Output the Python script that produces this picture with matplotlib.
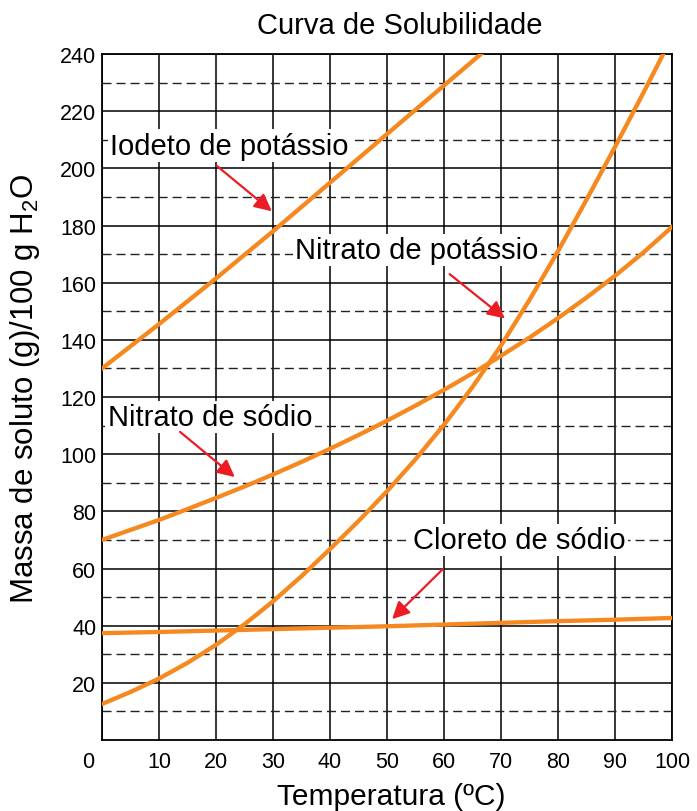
import matplotlib
matplotlib.use("Agg")
import matplotlib.pyplot as plt
import matplotlib.transforms as mtransforms

plt.rcParams["font.family"] = ["Liberation Sans", "DejaVu Sans"]
plt.rcParams["mathtext.default"] = "regular"

ORANGE = "#f5891f"
RED = "#ec1c24"

# values (g / 100 g H2O)
temps = [0, 5, 10, 15, 20, 25, 30, 35, 40, 45, 50, 55, 60, 65, 70, 75, 80, 85, 90, 95, 100]
kno3 = [12.6, 16.8, 21.5, 27, 33.3, 40.5, 48.5, 57.3, 66.8, 76.6, 87, 98.2, 110.3,
        123.5, 138, 154, 171, 189, 207.5, 226.5, 246]
nano3 = [70, 73.5, 77, 80.8, 84.7, 88.7, 92.9, 97.3, 101.9, 106.7, 111.7, 117, 122.5,
         128.3, 134.4, 140.8, 147.6, 154.8, 162.4, 170.6, 179.5]

temps_ki = [0, 10, 20, 30, 40, 50, 60, 70]
ki = [130, 145.5, 161.5, 178, 195, 212, 229, 246]

temps_nacl = [0, 10, 20, 30, 40, 50, 60, 70, 80, 90, 100]
nacl = [37.4, 37.8, 38.3, 38.8, 39.3, 39.8, 40.4, 41.0, 41.6, 42.1, 42.7]

x_ticks = list(range(0, 101, 10))
y_ticks = list(range(20, 241, 20))
y_dashed = list(range(10, 240, 20))

# label text, text position, arrow tail, arrow tip
labels = [
    ("Iodeto de potássio", (1.4, 208), (20.2, 200.8), (29.8, 185)),
    ("Nitrato de potássio", (33.9, 171.5), (61, 163), (70.7, 147.5)),
    ("Nitrato de sódio", (1.0, 113), (13.7, 107.8), (23.3, 92)),
    ("Cloreto de sódio", (54.5, 70), (59.8, 59.8), (50.9, 42.3)),
]

fig = plt.figure(figsize=(6.97, 8.12), dpi=100)
ax = fig.add_axes([0.1463, 0.0874, 0.8178, 0.8448])

ax.set_xlim(0, 100)
ax.set_ylim(0, 240)
ax.set_xticks(x_ticks)
ax.set_yticks(y_ticks)
ax.set_yticks(y_dashed, minor=True)
ax.tick_params(which="both", length=0, labelsize=15.5)
ax.tick_params(axis="x", pad=8)
ax.tick_params(axis="y", pad=4)
ax.yaxis.set_tick_params(which="minor", labelleft=False)

ax.grid(True, which="major", color="black", lw=1.1, zorder=1)
ax.grid(True, which="minor", axis="y", color="#222222", lw=1.0,
        linestyle=(0, (6.5, 3.6)), zorder=1)
ax.set_axisbelow(True)
for sp in ax.spines.values():
    sp.set_linewidth(1.3)

# shift the "0" label to the left of the corner
lbl0 = ax.get_xticklabels()[0]
lbl0.set_transform(lbl0.get_transform() + mtransforms.ScaledTranslation(-14 / 100, 0, fig.dpi_scale_trans))

ax.plot(temps_ki, ki, color=ORANGE, lw=3.1, zorder=3)
ax.plot(temps, kno3, color=ORANGE, lw=3.1, zorder=3)
ax.plot(temps, nano3, color=ORANGE, lw=3.1, zorder=3)
ax.plot(temps_nacl, nacl, color=ORANGE, lw=3.1, zorder=3)

for text, (tx, ty), tail, tip in labels:
    ax.text(tx, ty, text, fontsize=21, ha="left", va="center", zorder=4,
            bbox=dict(boxstyle="square,pad=0.08", fc="white", ec="none"))
    ax.annotate("", xy=tip, xytext=tail, zorder=5,
                arrowprops=dict(arrowstyle="-|>", color=RED, lw=1.6,
                                mutation_scale=26, shrinkA=0, shrinkB=0))

fig.text(0.574, 0.968, "Curva de Solubilidade", fontsize=21, ha="center", va="center")
fig.text(0.561, 0.018, "Temperatura (ºC)", fontsize=21.5, ha="center", va="center")
fig.text(0.036, 0.522, "Massa de soluto (g)/100 g H$_2$O", fontsize=22.5,
         rotation=90, ha="center", va="center")

fig.savefig("out.png", dpi=100)
